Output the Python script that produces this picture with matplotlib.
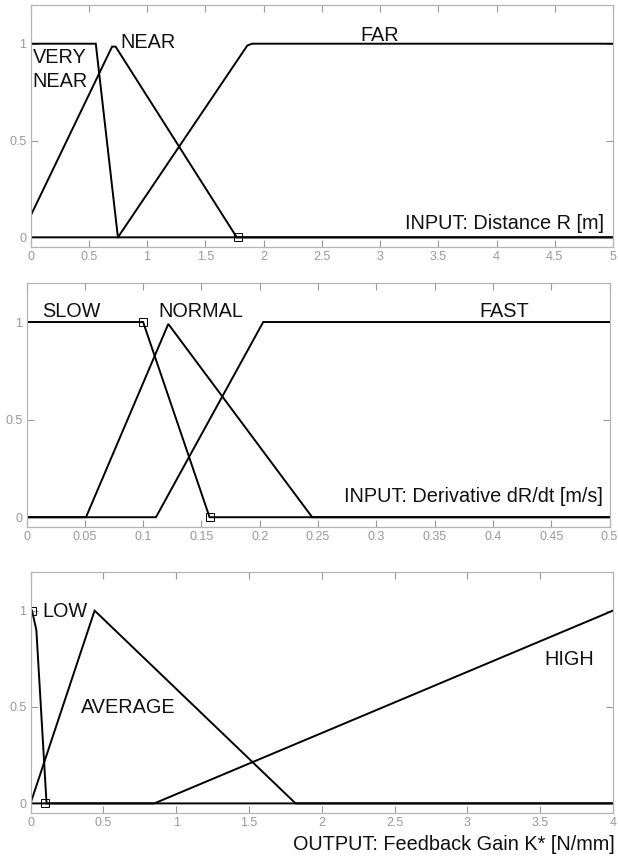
"""
Fuzzy membership functions for the feedback gain controller:
two inputs (distance, derivative) and one output (gain).
"""
import matplotlib
matplotlib.use("Agg")
import matplotlib.pyplot as plt

plt.rcParams["font.family"] = ["Liberation Sans", "DejaVu Sans"]

# --- INPUT 1: distance R [m] ---
R_VERY_NEAR_X = [0, 0.56, 0.75, 5]
R_VERY_NEAR_Y = [1, 1, 0, 0]
R_NEAR_X = [0, 0.70, 0.73, 1.77, 5]
R_NEAR_Y = [0.11, 0.985, 0.985, 0, 0]
R_FAR_X = [0, 0.75, 1.86, 1.90, 5]
R_FAR_Y = [0, 0, 0.99, 1, 1]
R_MARKS_X = [1.78]
R_MARKS_Y = [0]
R_TICKS = [0, 0.5, 1, 1.5, 2, 2.5, 3, 3.5, 4, 4.5, 5]
R_TICKLABELS = ["0", "0.5", "1", "1.5", "2", "2.5", "3", "3.5", "4", "4.5", "5"]

# --- INPUT 2: derivative dR/dt [m/s] ---
D_SLOW_X = [0, 0.100, 0.157, 0.5]
D_SLOW_Y = [1, 1, 0, 0]
D_NORMAL_X = [0, 0.051, 0.1216, 0.245, 0.5]
D_NORMAL_Y = [0, 0, 0.99, 0, 0]
D_FAST_X = [0, 0.111, 0.203, 0.5]
D_FAST_Y = [0, 0, 1, 1]
D_MARKS_X = [0.100, 0.157]
D_MARKS_Y = [1, 0]
D_TICKS = [0, 0.05, 0.1, 0.15, 0.2, 0.25, 0.3, 0.35, 0.4, 0.45, 0.5]
D_TICKLABELS = ["0", "0.05", "0.1", "0.15", "0.2", "0.25", "0.3", "0.35",
                "0.4", "0.45", "0.5"]

# --- OUTPUT: feedback gain K* [N/mm] ---
K_LOW_X = [0, 0.01, 0.04, 0.11, 4]
K_LOW_Y = [1, 1, 0.9, 0, 0]
K_AVG_X = [0, 0.44, 1.82, 4]
K_AVG_Y = [0, 1, 0, 0]
K_HIGH_X = [0, 0.85, 4]
K_HIGH_Y = [0, 0, 1]
K_MARKS_X = [0.01, 0.10]
K_MARKS_Y = [1, 0]
K_TICKS = [0, 0.5, 1, 1.5, 2, 2.5, 3, 3.5, 4]
K_TICKLABELS = ["0", "0.5", "1", "1.5", "2", "2.5", "3", "3.5", "4"]

Y_TICKS = [0, 0.5, 1]
Y_TICKLABELS = ["0", "0.5", "1"]

LINE_KW = dict(color="black", linewidth=1.4, solid_joinstyle="miter")
MARK_KW = dict(linestyle="none", marker="s", markersize=5.8, markerfacecolor="none",
               markeredgecolor="black", markeredgewidth=0.7)
TXT_KW = dict(fontsize=14.3, color="#111111")
GRAY = "#9a9a9a"


def style_axes(ax, xlim, xticks, xticklabels):
    ax.set_xlim(*xlim)
    ax.set_ylim(-0.05, 1.2)
    ax.set_xticks(xticks)
    ax.set_xticklabels(xticklabels)
    ax.set_yticks(Y_TICKS)
    ax.set_yticklabels(Y_TICKLABELS)
    ax.tick_params(direction="in", length=5, width=0.8, colors=GRAY,
                   labelsize=9, labelcolor="#999999", pad=3,
                   top=True, right=True)
    for s in ax.spines.values():
        s.set_color("#b5b5b5")
        s.set_linewidth(0.9)


fig = plt.figure(figsize=(6.18, 8.58), dpi=100)

# panel 1 - distance
ax1 = fig.add_axes([0.0494, 0.7121, 0.9426, 0.2821])
ax1.plot(R_VERY_NEAR_X, R_VERY_NEAR_Y, **LINE_KW)
ax1.plot(R_NEAR_X, R_NEAR_Y, **LINE_KW)
ax1.plot(R_FAR_X, R_FAR_Y, **LINE_KW)
ax1.plot(R_MARKS_X, R_MARKS_Y, **MARK_KW)
style_axes(ax1, (0, 5), R_TICKS, R_TICKLABELS)
ax1.text(0.02, 0.902, "VERY", **TXT_KW)
ax1.text(0.02, 0.778, "NEAR", **TXT_KW)
ax1.text(0.768, 0.979, "NEAR", **TXT_KW)
ax1.text(2.83, 1.015, "FAR", **TXT_KW)
ax1.text(4.92, 0.041, "INPUT: Distance R [m]", ha="right", **TXT_KW)

# panel 2 - derivative
ax2 = fig.add_axes([0.0429, 0.3858, 0.9434, 0.2844])
ax2.plot(D_SLOW_X, D_SLOW_Y, **LINE_KW)
ax2.plot(D_NORMAL_X, D_NORMAL_Y, **LINE_KW)
ax2.plot(D_FAST_X, D_FAST_Y, **LINE_KW)
ax2.plot(D_MARKS_X, D_MARKS_Y, **MARK_KW)
style_axes(ax2, (0, 0.5), D_TICKS, D_TICKLABELS)
ax2.text(0.0133, 1.026, "SLOW", **TXT_KW)
ax2.text(0.1128, 1.026, "NORMAL", **TXT_KW)
ax2.text(0.388, 1.026, "FAST", **TXT_KW)
ax2.text(0.494, 0.077, "INPUT: Derivative dR/dt [m/s]", ha="right", **TXT_KW)

# panel 3 - output gain
ax3 = fig.add_axes([0.0494, 0.0524, 0.9426, 0.2809])
ax3.plot(K_LOW_X, K_LOW_Y, **LINE_KW)
ax3.plot(K_AVG_X, K_AVG_Y, **LINE_KW)
ax3.plot(K_HIGH_X, K_HIGH_Y, **LINE_KW)
ax3.plot(K_MARKS_X, K_MARKS_Y, **MARK_KW)
style_axes(ax3, (0, 4), K_TICKS, K_TICKLABELS)
ax3.text(0.078, 0.969, "LOW", **TXT_KW)
ax3.text(0.345, 0.469, "AVERAGE", **TXT_KW)
ax3.text(3.525, 0.719, "HIGH", **TXT_KW)
ax3.text(4.013, -0.24, "OUTPUT: Feedback Gain K* [N/mm]", ha="right", **TXT_KW)

fig.savefig("out.png", dpi=100)
